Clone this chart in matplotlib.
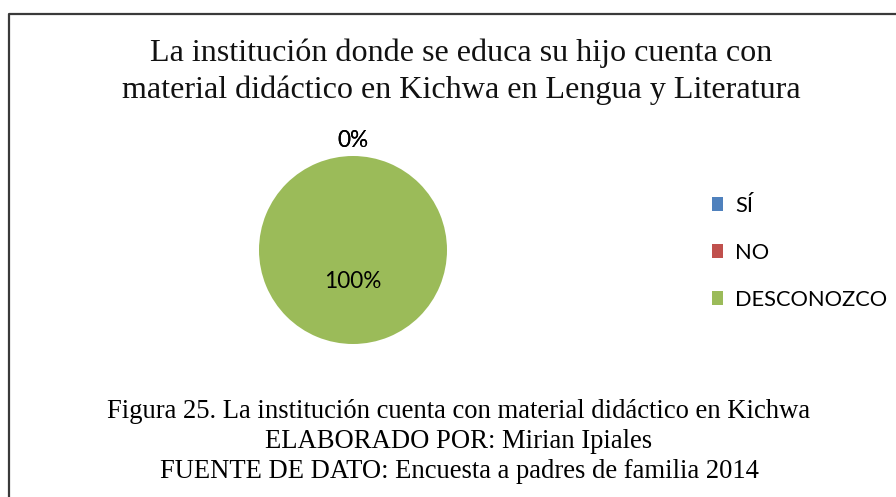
import matplotlib
matplotlib.use("Agg")
import matplotlib.pyplot as plt
import numpy as np

categories = ["SÍ", "NO", "DESCONOZCO"]
values = [0, 0, 100]
colors = ["#4F81BD", "#C0504D", "#9BBB59"]
title_lines = ["La institución donde se educa su hijo cuenta con",
               "material didáctico en Kichwa en Lengua y Literatura"]
caption_lines = ["Figura 25. La institución cuenta con material didáctico en Kichwa",
                 "ELABORADO POR: Mirian Ipiales",
                 "FUENTE DE DATO: Encuesta a padres de familia 2014"]

W, H = 896, 497
fig = plt.figure(figsize=(W / 100, H / 100), dpi=100)
fig.patch.set_facecolor("white")

# frame lines (top and left)
fig.add_artist(plt.Line2D([8.5 / W, 8.5 / W, 1.0], [0.0, 1 - 13.5 / H, 1 - 13.5 / H],
                          transform=fig.transFigure, color="#3a3a3a", lw=1.6))

# title
for i, line in enumerate(title_lines):
    fig.text(461 / W, 1 - (61 + 37 * i) / H, line, ha="center", va="baseline",
             family="Liberation Serif", fontsize=23.1, color="#111111")

# pie
cx, cy, r = 353, 250, 94
ax = fig.add_axes([(cx - r) / W, 1 - (cy + r) / H, 2 * r / W, 2 * r / H])
wedges, _ = ax.pie(values, colors=colors, startangle=90, counterclock=False,
                   radius=1.0, wedgeprops=dict(linewidth=0))
ax.set_xlim(-1, 1)
ax.set_ylim(-1, 1)
ax.set_aspect("equal")
ax.axis("off")

total = float(sum(values))
start = 90.0
for v in values:
    frac = v / total
    ang = start - frac * 360 / 2
    start -= frac * 360
    pct = f"{frac * 100:.0f}%"
    if frac == 0:
        d = 1.17
    else:
        d = 0.34
    x, y = d * np.cos(np.radians(ang)), d * np.sin(np.radians(ang))
    ax.text(x, y, pct, ha="center", va="center", family="Lato", fontsize=16.3,
            color="black")

# legend
leg = fig.legend(wedges, categories, loc="upper left",
                 bbox_to_anchor=(712 / W, 1 - 196 / H), frameon=False,
                 prop=dict(family="Lato", size=15.75), handlelength=0.5,
                 handleheight=0.6, handletextpad=0.55, labelspacing=1.23,
                 borderpad=0, borderaxespad=0)

# caption
for i, line in enumerate(caption_lines):
    fig.text(459 / W, 1 - (418 + 30 * i) / H, line, ha="center", va="baseline",
             family="Liberation Serif", fontsize=19.2, color="black")

fig.savefig("out.png", dpi=100, facecolor="white")
